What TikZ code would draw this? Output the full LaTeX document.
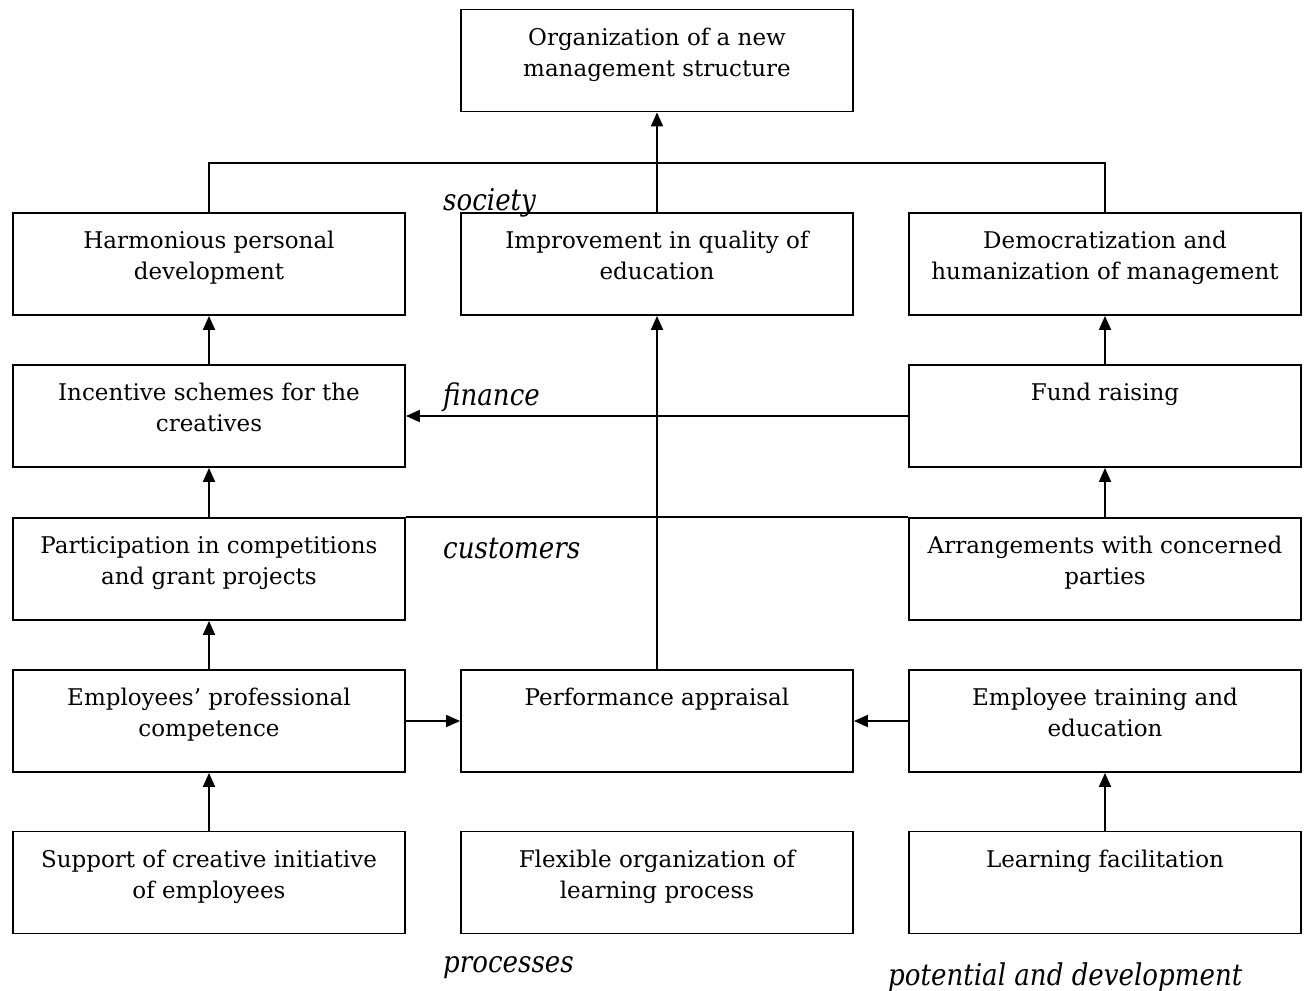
\documentclass[tikz,border=0pt]{standalone}
\usepackage{fontspec}
\setmainfont{DejaVu Serif}
\newfontfamily\lblfont[FakeStretch=0.87]{DejaVu Serif Italic}
\usetikzlibrary{arrows.meta,calc}
\tikzset{
  box/.style={draw, line width=1.8pt, minimum width=392pt, minimum height=102pt, inner sep=0pt},
  txt/.style={anchor=north, align=center, inner sep=0pt, font=\fontsize{23}{31}\selectfont},
  lbl/.style={anchor=base west, inner sep=0pt, font=\lblfont\fontsize{30}{30}\selectfont},
  conn/.style={line width=1.8pt},
  arr/.style={line width=1.8pt, -{Triangle[length=14pt,width=12pt]}}
}
\begin{document}
\begin{tikzpicture}[x=1pt,y=-1pt]
\useasboundingbox (0,0) rectangle (1310,991);
% boxes
\node[box] (org) at (657,60.5) {};
\node[box] (harm) at (209,264) {};
\node[box] (impr) at (657,264) {};
\node[box] (demo) at (1105,264) {};
\node[box] (inc) at (209,416) {};
\node[box] (fund) at (1105,416) {};
\node[box] (part) at (209,569) {};
\node[box] (arrg) at (1105,569) {};
\node[box] (emp) at (209,721) {};
\node[box] (perf) at (657,721) {};
\node[box] (train) at (1105,721) {};
\node[box] (supp) at (209,882.5) {};
\node[box] (flex) at (657,882.5) {};
\node[box] (learn) at (1105,882.5) {};
% texts
\node[txt] (orgt) at ($(org.north)+(0,19)$) {Organization of a new\\management structure};
\node[txt] (harmt) at ($(harm.north)+(0,19)$) {Harmonious personal\\development};
\node[txt] (imprt) at ($(impr.north)+(0,19)$) {Improvement in quality of\\education};
\node[txt] (demot) at ($(demo.north)+(0,19)$) {Democratization and\\humanization of management};
\node[txt] (inct) at ($(inc.north)+(0,19)$) {Incentive schemes for the\\creatives};
\node[txt] (fundt) at ($(fund.north)+(0,19)$) {Fund raising};
\node[txt] (partt) at ($(part.north)+(0,19)$) {Participation in competitions\\and grant projects};
\node[txt] (arrgt) at ($(arrg.north)+(0,19)$) {Arrangements with concerned\\parties};
\node[txt] (empt) at ($(emp.north)+(0,19)$) {Employees’ professional\\competence};
\node[txt] (perft) at ($(perf.north)+(0,19)$) {Performance appraisal};
\node[txt] (traint) at ($(train.north)+(0,19)$) {Employee training and\\education};
\node[txt] (suppt) at ($(supp.north)+(0,19)$) {Support of creative initiative\\of employees};
\node[txt] (flext) at ($(flex.north)+(0,19)$) {Flexible organization of\\learning process};
\node[txt] (learnt) at ($(learn.north)+(0,19)$) {Learning facilitation};
% italic labels
\node[lbl] (society) at (443,210) {society};
\node[lbl] (finance) at (443,405) {finance};
\node[lbl] (customers) at (443,558) {customers};
\node[lbl] (processes) at (443,972) {processes};
\node[lbl] (potential) at (888,985) {potential and development};
% connectors
\coordinate (bus) at (657,163);
\draw[conn] (harm.north) |- (bus) -| (demo.north);
\draw[arr] (impr.north) -- (org.south);
\draw[arr] (inc) -- (harm);
\draw[arr] (part) -- (inc);
\draw[arr] (emp) -- (part);
\draw[arr] (supp) -- (emp);
\draw[arr] (fund) -- (demo);
\draw[arr] (arrg) -- (fund);
\draw[arr] (learn) -- (train);
\draw[arr] (fund.west) -- (inc.east);
\draw[arr] (perf.north) -- (impr.south);
\draw[arr] (emp.east) -- (perf.west);
\draw[arr] (train.west) -- (perf.east);
\draw[conn] (part.north east) -- (arrg.north west);
\end{tikzpicture}
\end{document}
